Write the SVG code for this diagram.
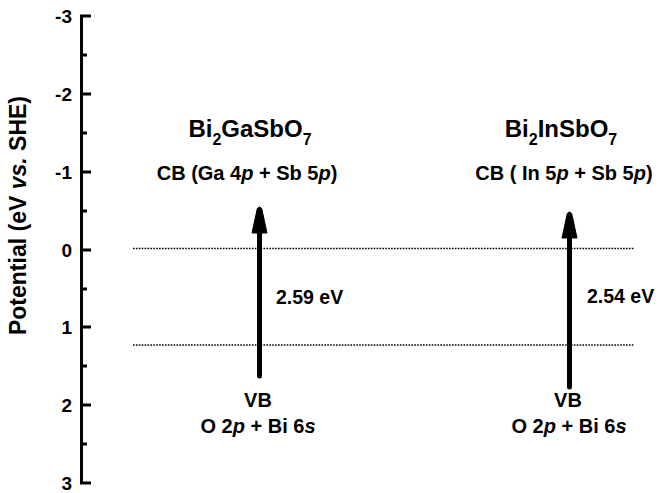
<svg xmlns="http://www.w3.org/2000/svg" width="672" height="493" viewBox="0 0 672 493">
<defs>
<style>
text{font-family:"Liberation Sans",Arial,sans-serif;font-weight:bold;fill:#000}
.tick{font-size:19px;text-anchor:end}
.title{font-size:24px;text-anchor:middle}
.sub{font-size:16px}
.orb{font-size:20px;text-anchor:middle}
.gap{font-size:19.5px}
.ax{stroke:#000;stroke-width:3;fill:none}
.dot{stroke:#000;stroke-width:1.6;stroke-dasharray:1.6 1.3;fill:none}
.arr{stroke:#000;stroke-width:5;stroke-linecap:round;fill:none;marker-end:url(#head)}
</style>
<marker id="head" markerUnits="userSpaceOnUse" viewBox="-1 -9 30 18" refX="0" refY="0" markerWidth="30" markerHeight="18" orient="auto">
<path d="M0,-7.5 L24.5,-2.2 Q27.5,0 24.5,2.2 L0,7.5 Z" fill="#000" stroke="#000" stroke-width="1" stroke-linejoin="round"/>
</marker>
</defs>
<rect width="672" height="493" fill="#fff"/>
<g id="y-axis">
<path class="ax" d="M81.5,16 V483 M80,16 H91 M80,483 H91 M80,94 H91 M80,172 H91 M80,250 H91 M80,327 H91 M80,405 H91 M80,55 H87 M80,133 H87 M80,211 H87 M80,289 H87 M80,366 H87 M80,444 H87"/>
<text class="tick" x="72" y="23">-3</text>
<text class="tick" x="72" y="101">-2</text>
<text class="tick" x="72" y="179">-1</text>
<text class="tick" x="72" y="257">0</text>
<text class="tick" x="72" y="334">1</text>
<text class="tick" x="72" y="412">2</text>
<text class="tick" x="72" y="490">3</text>
<text transform="translate(26,215.5) rotate(-90)" font-size="23" text-anchor="middle">Potential (eV <tspan font-style="italic">vs.</tspan> SHE)</text>
</g>
<g id="levels">
<line class="dot" x1="133" y1="248.5" x2="634" y2="248.5"/>
<line class="dot" x1="133" y1="345" x2="634" y2="345"/>
</g>
<g id="cb-ga">
<text class="title" x="250" y="137">Bi<tspan class="sub" dy="8">2</tspan><tspan dy="-8">GaSbO</tspan><tspan class="sub" dy="8">7</tspan></text>
<text class="orb" x="247" y="180">CB (Ga 4<tspan font-style="italic">p</tspan> + Sb 5<tspan font-style="italic">p</tspan>)</text>
</g>
<g id="cb-in">
<text class="title" x="561" y="137">Bi<tspan class="sub" dy="8">2</tspan><tspan dy="-8">InSbO</tspan><tspan class="sub" dy="8">7</tspan></text>
<text class="orb" x="564" y="180">CB ( In 5<tspan font-style="italic">p</tspan> + Sb 5<tspan font-style="italic">p</tspan>)</text>
</g>
<g id="vb-ga">
<text class="orb" x="258" y="407">VB</text>
<text class="orb" x="258" y="433">O 2<tspan font-style="italic">p</tspan> + Bi 6<tspan font-style="italic">s</tspan></text>
</g>
<g id="vb-in">
<text class="orb" x="568" y="407">VB</text>
<text class="orb" x="569" y="433">O 2<tspan font-style="italic">p</tspan> + Bi 6<tspan font-style="italic">s</tspan></text>
</g>
<g id="gap-ga"><text class="gap" x="276" y="304">2.59 eV</text></g>
<g id="gap-in"><text class="gap" x="587" y="303">2.54 eV</text></g>
<g id="connectors">
<line class="arr" x1="259.5" y1="376" x2="259.5" y2="233"/>
<line class="arr" x1="569.5" y1="387" x2="569.5" y2="238"/>
</g>
</svg>
